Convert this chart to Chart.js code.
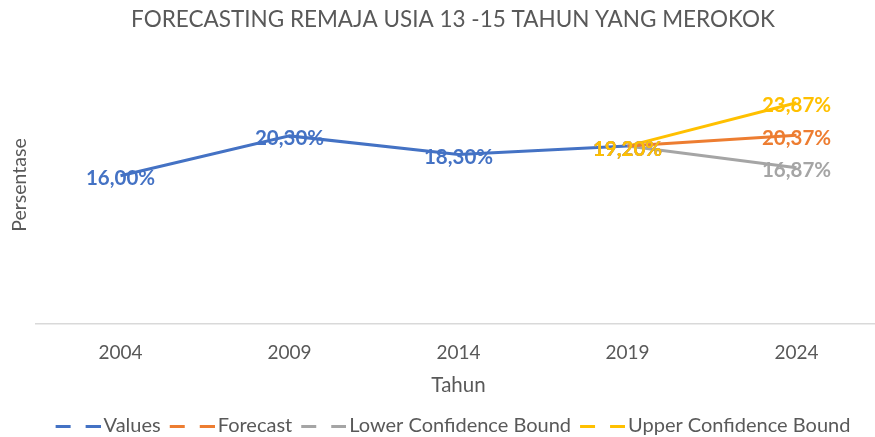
<!DOCTYPE html>
<html>
<head>
<meta charset="utf-8">
<script src="https://cdn.jsdelivr.net/npm/chart.js@4.4.1/dist/chart.umd.min.js"></script>
<style>
  html, body { margin: 0; padding: 0; background: #ffffff; overflow: hidden; }
  #wrap { position: relative; width: 906px; height: 446px; }
</style>
</head>
<body>
<div id="wrap"><canvas id="c" width="906" height="446"></canvas></div>
<script>
const chartTitle = 'FORECASTING REMAJA USIA 13 -15 TAHUN YANG MEROKOK';
const categories = ['2004', '2009', '2014', '2019', '2024'];
const valuesSeries = [16.00, 20.30, 18.30, 19.20, null];
const forecastSeries = [null, null, null, 19.20, 20.37];
const lowerSeries = [null, null, null, 19.20, 16.87];
const upperSeries = [null, null, null, 19.20, 23.87];
const seriesNames = ['Values', 'Forecast', 'Lower Confidence Bound', 'Upper Confidence Bound'];
const seriesColors = ['#4472C4', '#ED7D31', '#A5A5A5', '#FFC000'];
const yMin = 0, yMax = 30;
const xTitle = 'Tahun', yTitle = 'Persentase';

const textColor = '#595959';
const FONT = 'Lato';

// dashed legend symbol (two dashes), drawn as an image point style
function dashSymbol(color) {
  const c = document.createElement('canvas');
  c.width = 52; c.height = 3;
  const g = c.getContext('2d');
  g.fillStyle = color;
  g.fillRect(7, 0, 15, 3);
  g.fillRect(37, 0, 15, 3);
  return c;
}

const labelPlugin = {
  id: 'valueLabels',
  afterDatasetsDraw(chart) {
    const ctx = chart.ctx;
    ctx.save();
    ctx.font = 'bold 20.5px ' + FONT;
    ctx.textAlign = 'center';
    ctx.textBaseline = 'middle';
    chart.data.datasets.forEach((ds, i) => {
      const meta = chart.getDatasetMeta(i);
      meta.data.forEach((pt, j) => {
        const v = ds.data[j];
        if (v === null || v === undefined) return;
        ctx.fillStyle = ds.borderColor;
        ctx.fillText(v.toFixed(2).replace('.', ',') + '%', pt.x, pt.y + 3);
      });
    });
    ctx.restore();
  }
};

const seriesData = [valuesSeries, forecastSeries, lowerSeries, upperSeries];
const datasets = seriesData.map((d, i) => ({
  label: seriesNames[i],
  data: d,
  borderColor: seriesColors[i],
  backgroundColor: seriesColors[i],
  borderWidth: 3,
  pointRadius: 0,
  pointHoverRadius: 0,
  tension: 0,
  spanGaps: false,
  yAxisID: 'y'
}));

new Chart(document.getElementById('c'), {
  type: 'line',
  data: { labels: categories, datasets },
  plugins: [labelPlugin],
  options: {
    responsive: false,
    animation: false,
    events: [],
    layout: { padding: 0 },
    plugins: {
      title: {
        display: true,
        text: chartTitle,
        color: textColor,
        font: { family: FONT, size: 22.5, weight: 'normal' },
        padding: { top: 6.5, bottom: 12.5 }
      },
      legend: {
        display: true,
        position: 'bottom',
        labels: {
          color: textColor,
          font: { family: FONT, size: 20 },
          usePointStyle: true,
          pointStyleWidth: 38,
          padding: 9,
          generateLabels(chart) {
            return chart.data.datasets.map((ds, i) => ({
              text: ds.label,
              fillStyle: ds.borderColor,
              strokeStyle: ds.borderColor,
              fontColor: textColor,
              lineWidth: 0,
              pointStyle: dashSymbol(ds.borderColor),
              datasetIndex: i,
              hidden: false
            }));
          }
        }
      },
      tooltip: { enabled: false }
    },
    scales: {
      x: {
        type: 'category',
        offset: true,
        grid: { display: true, drawOnChartArea: false, drawTicks: false },
        border: { display: true, color: '#D9D9D9', width: 1.5 },
        ticks: { color: textColor, font: { family: FONT, size: 19 }, padding: 17, maxRotation: 0 },
        title: { display: true, text: xTitle, color: textColor, font: { family: FONT, size: 20.5 }, padding: { top: 0, bottom: 9.7 } },
        afterFit(scale) { scale.height = 83; }
      },
      y: {
        position: 'left',
        min: yMin,
        max: yMax,
        grid: { display: false },
        border: { display: false },
        ticks: { display: false },
        title: { display: true, text: yTitle, color: textColor, font: { family: FONT, size: 19.5 }, padding: { top: 8.5, bottom: 0 } },
        afterFit(scale) { scale.width = 36; }
      },
      yRight: {
        position: 'right',
        display: true,
        min: yMin,
        max: yMax,
        grid: { display: false },
        border: { display: false },
        ticks: { display: false },
        afterFit(scale) { scale.width = 25; }
      }
    }
  }
});
</script>
</body>
</html>
